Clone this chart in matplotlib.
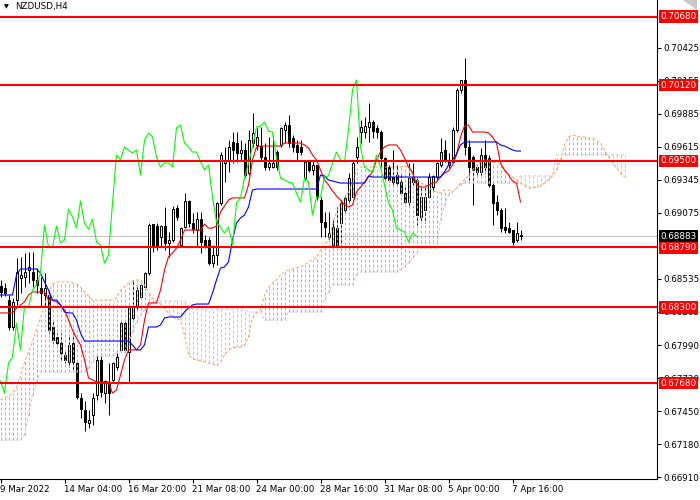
import matplotlib
matplotlib.use("Agg")
import matplotlib.pyplot as plt
import numpy as np
from matplotlib.patches import Polygon

plt.rcParams['font.family'] = ['DejaVu Sans']

# H4 candles, NZDUSD
opens = [
    0.68475, 0.68458, 0.68360, 0.68139, 0.68360, 0.68540, 0.68549, 0.68606, 0.68590, 0.68524,
    0.68458, 0.68401, 0.68401, 0.68139, 0.68057, 0.68007, 0.67910, 0.67853, 0.68007, 0.67844,
    0.67558, 0.67459, 0.67352, 0.67418, 0.67582, 0.67869, 0.67598, 0.67680, 0.67705, 0.67812,
    0.67951, 0.68171, 0.67934, 0.68213, 0.68303, 0.68385, 0.68467, 0.68581, 0.68982, 0.68966,
    0.68876, 0.68966, 0.68827, 0.68851, 0.69113, 0.68810, 0.68958, 0.69171, 0.68990, 0.68933,
    0.69023, 0.68851, 0.68851, 0.68663, 0.68729, 0.69155, 0.69482, 0.69507, 0.69654, 0.69646,
    0.69564, 0.69589, 0.69400, 0.69646, 0.69630, 0.69621, 0.69531, 0.69449, 0.69449, 0.69572,
    0.69630, 0.69752, 0.69793, 0.69687, 0.69630, 0.69613, 0.69359, 0.69490, 0.69425, 0.69466,
    0.69179, 0.68999, 0.68876, 0.68810, 0.68949, 0.68990, 0.69097, 0.69179, 0.69204, 0.69531,
    0.69736, 0.69736, 0.69777, 0.69818, 0.69769, 0.69736, 0.69523, 0.69449, 0.69367, 0.69384,
    0.69326, 0.69236, 0.69163, 0.69367, 0.69343, 0.69040, 0.69097, 0.69204, 0.69285, 0.69367,
    0.69466, 0.69589, 0.69466, 0.69490, 0.69752, 0.70080, 0.70162, 0.69613, 0.69531, 0.69449,
    0.69408, 0.69548, 0.69523, 0.69302, 0.69163, 0.69097, 0.68958, 0.68949, 0.68933, 0.68851,
    0.68892]
highs = [
    0.68524, 0.68499, 0.68401, 0.68376, 0.68704, 0.68713, 0.68745, 0.68754, 0.68754, 0.68622,
    0.68549, 0.68581, 0.68442, 0.68196, 0.68089, 0.68089, 0.67951, 0.68057, 0.68089, 0.67853,
    0.67598, 0.67533, 0.67459, 0.67598, 0.67910, 0.67926, 0.67705, 0.67844, 0.67853, 0.67926,
    0.68196, 0.68196, 0.68319, 0.68524, 0.68483, 0.68499, 0.68590, 0.68990, 0.68982, 0.68990,
    0.68974, 0.69122, 0.68917, 0.69130, 0.69138, 0.68958, 0.69236, 0.69179, 0.69072, 0.69081,
    0.69081, 0.68892, 0.68876, 0.68810, 0.69163, 0.69572, 0.69613, 0.69670, 0.69736, 0.69736,
    0.69670, 0.69646, 0.69752, 0.69892, 0.69769, 0.69777, 0.69646, 0.69695, 0.69711, 0.69589,
    0.69777, 0.69818, 0.69875, 0.69711, 0.69670, 0.69670, 0.69507, 0.69507, 0.69507, 0.69466,
    0.69204, 0.69081, 0.69081, 0.69015, 0.69122, 0.69179, 0.69220, 0.69400, 0.69507, 0.69695,
    0.69834, 0.69859, 0.69974, 0.69834, 0.69793, 0.69752, 0.69531, 0.69466, 0.69589, 0.69466,
    0.69400, 0.69285, 0.69482, 0.69482, 0.69359, 0.69285, 0.69285, 0.69400, 0.69384, 0.69490,
    0.69687, 0.69670, 0.69564, 0.69777, 0.70096, 0.70162, 0.70342, 0.69670, 0.69548, 0.69466,
    0.69605, 0.69670, 0.69548, 0.69318, 0.69220, 0.69113, 0.69113, 0.68999, 0.68933, 0.68999,
    0.68933]
lows = [
    0.68385, 0.68393, 0.68114, 0.68114, 0.68319, 0.68417, 0.68467, 0.68499, 0.68467, 0.68417,
    0.68303, 0.68303, 0.68089, 0.68007, 0.67975, 0.67869, 0.67844, 0.67812, 0.67787, 0.67549,
    0.67393, 0.67287, 0.67311, 0.67336, 0.67541, 0.67566, 0.67516, 0.67418, 0.67689, 0.67787,
    0.67934, 0.67934, 0.67680, 0.68196, 0.68278, 0.68368, 0.68442, 0.68565, 0.68754, 0.68770,
    0.68794, 0.68770, 0.68713, 0.68835, 0.69015, 0.68794, 0.68949, 0.68958, 0.68908, 0.68794,
    0.68745, 0.68786, 0.68647, 0.68631, 0.68647, 0.69138, 0.69326, 0.69408, 0.69482, 0.69490,
    0.69507, 0.69367, 0.69384, 0.69613, 0.69589, 0.69507, 0.69425, 0.69425, 0.69441, 0.69425,
    0.69613, 0.69646, 0.69613, 0.69572, 0.69507, 0.69548, 0.69343, 0.69408, 0.69384, 0.69179,
    0.68876, 0.68876, 0.68859, 0.68770, 0.68778, 0.68770, 0.69081, 0.69155, 0.69179, 0.69482,
    0.69646, 0.69687, 0.69654, 0.69687, 0.69687, 0.69449, 0.69343, 0.69326, 0.69285, 0.69302,
    0.69220, 0.69155, 0.69122, 0.69302, 0.68974, 0.68999, 0.68990, 0.69196, 0.69244, 0.69343,
    0.69449, 0.69490, 0.69441, 0.69482, 0.69736, 0.70055, 0.69548, 0.69343, 0.69138, 0.69384,
    0.69367, 0.69400, 0.69285, 0.68974, 0.69056, 0.68917, 0.68908, 0.68908, 0.68810, 0.68835,
    0.68851]
closes = [
    0.68426, 0.68417, 0.68139, 0.68344, 0.68590, 0.68565, 0.68590, 0.68631, 0.68524, 0.68483,
    0.68417, 0.68458, 0.68114, 0.68032, 0.68007, 0.67926, 0.67869, 0.67992, 0.67853, 0.67566,
    0.67467, 0.67361, 0.67377, 0.67558, 0.67869, 0.67607, 0.67697, 0.67598, 0.67844, 0.67894,
    0.68171, 0.67951, 0.68311, 0.68303, 0.68442, 0.68483, 0.68581, 0.68974, 0.68794, 0.68794,
    0.68966, 0.68827, 0.68851, 0.69105, 0.69040, 0.68949, 0.69171, 0.68990, 0.68941, 0.69023,
    0.68835, 0.68810, 0.68663, 0.68729, 0.69155, 0.69548, 0.69507, 0.69613, 0.69589, 0.69564,
    0.69589, 0.69384, 0.69670, 0.69728, 0.69695, 0.69531, 0.69449, 0.69482, 0.69482, 0.69449,
    0.69769, 0.69793, 0.69646, 0.69613, 0.69572, 0.69572, 0.69490, 0.69425, 0.69466, 0.69204,
    0.68999, 0.68958, 0.68908, 0.68958, 0.68810, 0.69155, 0.69196, 0.69359, 0.69482, 0.69613,
    0.69777, 0.69785, 0.69818, 0.69744, 0.69736, 0.69523, 0.69359, 0.69343, 0.69326, 0.69318,
    0.69236, 0.69163, 0.69359, 0.69326, 0.69056, 0.69204, 0.69204, 0.69367, 0.69376, 0.69482,
    0.69572, 0.69507, 0.69490, 0.69752, 0.70080, 0.70162, 0.69613, 0.69449, 0.69425, 0.69408,
    0.69548, 0.69449, 0.69302, 0.69155, 0.69097, 0.68949, 0.68933, 0.68917, 0.68835, 0.68908,
    0.68883]

# Ichimoku lines
tenkan = [
    0.68254, 0.68254, 0.68254, 0.68254, 0.68294, 0.68319, 0.68344, 0.68401, 0.68426, 0.68426,
    0.68426, 0.68426, 0.68360, 0.68360, 0.68344, 0.68319, 0.68278, 0.68196, 0.68114, 0.68048,
    0.67992, 0.67869, 0.67722, 0.67705, 0.67689, 0.67689, 0.67689, 0.67689, 0.67598, 0.67623,
    0.67746, 0.67869, 0.67951, 0.67951, 0.67951, 0.67992, 0.68196, 0.68336, 0.68336, 0.68336,
    0.68442, 0.68606, 0.68713, 0.68745, 0.68786, 0.68851, 0.68933, 0.68933, 0.68933, 0.68933,
    0.68933, 0.68982, 0.68949, 0.68949, 0.68966, 0.69081, 0.69130, 0.69179, 0.69196, 0.69196,
    0.69196, 0.69196, 0.69302, 0.69507, 0.69613, 0.69621, 0.69621, 0.69621, 0.69621, 0.69621,
    0.69621, 0.69646, 0.69646, 0.69646, 0.69646, 0.69646, 0.69630, 0.69605, 0.69548, 0.69507,
    0.69425, 0.69343, 0.69302, 0.69253, 0.69212, 0.69179, 0.69138, 0.69122, 0.69138, 0.69244,
    0.69285, 0.69326, 0.69367, 0.69408, 0.69507, 0.69572, 0.69613, 0.69630, 0.69630, 0.69630,
    0.69589, 0.69523, 0.69449, 0.69408, 0.69302, 0.69285, 0.69285, 0.69302, 0.69318, 0.69326,
    0.69367, 0.69400, 0.69417, 0.69466, 0.69548, 0.69695, 0.69785, 0.69793, 0.69736, 0.69736,
    0.69736, 0.69736, 0.69728, 0.69695, 0.69646, 0.69482, 0.69425, 0.69384, 0.69335, 0.69318,
    0.69163]
kijun = [
    0.68401, 0.68401, 0.68401, 0.68401, 0.68565, 0.68614, 0.68614, 0.68614, 0.68614, 0.68614,
    0.68581, 0.68508, 0.68442, 0.68360, 0.68360, 0.68319, 0.68262, 0.68254, 0.68254, 0.68196,
    0.68089, 0.68024, 0.68024, 0.68024, 0.68024, 0.68024, 0.68024, 0.68024, 0.68024, 0.68024,
    0.68024, 0.68024, 0.68024, 0.67992, 0.67951, 0.67951, 0.67992, 0.68139, 0.68139, 0.68139,
    0.68155, 0.68213, 0.68221, 0.68221, 0.68221, 0.68221, 0.68262, 0.68294, 0.68319, 0.68327,
    0.68327, 0.68327, 0.68327, 0.68417, 0.68524, 0.68622, 0.68631, 0.68672, 0.68851, 0.68990,
    0.69032, 0.69056, 0.69122, 0.69261, 0.69269, 0.69269, 0.69269, 0.69269, 0.69269, 0.69269,
    0.69269, 0.69269, 0.69269, 0.69269, 0.69269, 0.69269, 0.69269, 0.69269, 0.69269, 0.69269,
    0.69384, 0.69376, 0.69343, 0.69335, 0.69326, 0.69318, 0.69318, 0.69318, 0.69318, 0.69318,
    0.69318, 0.69318, 0.69376, 0.69367, 0.69367, 0.69367, 0.69367, 0.69367, 0.69367, 0.69367,
    0.69367, 0.69367, 0.69367, 0.69367, 0.69367, 0.69367, 0.69367, 0.69367, 0.69367, 0.69367,
    0.69367, 0.69408, 0.69466, 0.69507, 0.69556, 0.69630, 0.69654, 0.69654, 0.69654, 0.69654,
    0.69654, 0.69654, 0.69654, 0.69654, 0.69654, 0.69630, 0.69621, 0.69605, 0.69589, 0.69580,
    0.69580]
span_a = [
    0.67541, 0.67558, 0.67574, 0.67598, 0.67639, 0.67738, 0.67853, 0.67934, 0.68016, 0.68114,
    0.68213, 0.68319, 0.68417, 0.68491, 0.68508, 0.68508, 0.68508, 0.68508, 0.68499, 0.68491,
    0.68467, 0.68426, 0.68393, 0.68360, 0.68360, 0.68360, 0.68360, 0.68360, 0.68360, 0.68376,
    0.68442, 0.68467, 0.68499, 0.68516, 0.68524, 0.68524, 0.68483, 0.68426, 0.68376, 0.68344,
    0.68327, 0.68294, 0.68254, 0.68221, 0.68204, 0.68196, 0.68073, 0.67910, 0.67877, 0.67869,
    0.67861, 0.67853, 0.67844, 0.67836, 0.67820, 0.67853, 0.67910, 0.67951, 0.67967, 0.67975,
    0.67975, 0.67992, 0.68057, 0.68213, 0.68254, 0.68278, 0.68401, 0.68458, 0.68499, 0.68524,
    0.68565, 0.68590, 0.68606, 0.68614, 0.68622, 0.68631, 0.68647, 0.68672, 0.68688, 0.68704,
    0.68770, 0.68810, 0.68851, 0.68974, 0.69081, 0.69155, 0.69196, 0.69244, 0.69318, 0.69425,
    0.69449, 0.69449, 0.69449, 0.69449, 0.69449, 0.69449, 0.69449, 0.69449, 0.69449, 0.69449,
    0.69449, 0.69458, 0.69449, 0.69384, 0.69343, 0.69326, 0.69302, 0.69277, 0.69261, 0.69244,
    0.69236, 0.69261, 0.69261, 0.69244, 0.69277, 0.69318, 0.69343, 0.69384, 0.69425, 0.69466,
    0.69490, 0.69507, 0.69507, 0.69490, 0.69482, 0.69466, 0.69425, 0.69392, 0.69367, 0.69343,
    0.69318, 0.69294, 0.69277, 0.69277, 0.69285, 0.69294, 0.69318, 0.69343, 0.69376, 0.69425,
    0.69507, 0.69630, 0.69695, 0.69711, 0.69703, 0.69695, 0.69695, 0.69687, 0.69687, 0.69670,
    0.69646, 0.69589, 0.69531, 0.69482, 0.69441, 0.69400, 0.69367]
span_b = [
    0.67213, 0.67213, 0.67213, 0.67213, 0.67213, 0.67213, 0.67254, 0.67418, 0.67582, 0.67689,
    0.67771, 0.67771, 0.67771, 0.67771, 0.67771, 0.67771, 0.67771, 0.67771, 0.67771, 0.67771,
    0.67771, 0.67771, 0.67804, 0.67853, 0.67902, 0.67902, 0.67902, 0.67902, 0.67902, 0.67934,
    0.67934, 0.67934, 0.67992, 0.68098, 0.68180, 0.68237, 0.68278, 0.68311, 0.68336, 0.68344,
    0.68352, 0.68352, 0.68352, 0.68352, 0.68352, 0.68352, 0.68352, 0.68311, 0.68286, 0.68286,
    0.68286, 0.68286, 0.68286, 0.68286, 0.68286, 0.68286, 0.68286, 0.68286, 0.68286, 0.68286,
    0.68286, 0.68286, 0.68262, 0.68262, 0.68262, 0.68262, 0.68196, 0.68196, 0.68196, 0.68196,
    0.68196, 0.68196, 0.68262, 0.68262, 0.68262, 0.68262, 0.68262, 0.68262, 0.68262, 0.68262,
    0.68262, 0.68360, 0.68426, 0.68483, 0.68483, 0.68483, 0.68483, 0.68483, 0.68483, 0.68565,
    0.68590, 0.68590, 0.68590, 0.68590, 0.68590, 0.68590, 0.68590, 0.68590, 0.68590, 0.68590,
    0.68606, 0.68631, 0.68663, 0.68704, 0.68745, 0.68786, 0.68786, 0.68786, 0.68786, 0.68786,
    0.69015, 0.69138, 0.69220, 0.69244, 0.69277, 0.69302, 0.69318, 0.69318, 0.69318, 0.69318,
    0.69318, 0.69318, 0.69318, 0.69318, 0.69318, 0.69318, 0.69318, 0.69318, 0.69318, 0.69318,
    0.69376, 0.69376, 0.69376, 0.69376, 0.69376, 0.69376, 0.69376, 0.69376, 0.69376, 0.69548,
    0.69548, 0.69548, 0.69548, 0.69548, 0.69548, 0.69548, 0.69548, 0.69548, 0.69548, 0.69548,
    0.69548, 0.69548, 0.69548, 0.69548, 0.69548, 0.69548, 0.69548]
chikou_shift = 26

levels = [0.70680, 0.70120, 0.69500, 0.68790, 0.68300, 0.67680]
bid = 0.68883
price_ticks = [0.70425, 0.70155, 0.69885, 0.69615, 0.69345, 0.69075,
               0.68535, 0.68265, 0.67990, 0.67720, 0.67450, 0.67180, 0.66910]
time_labels = ["9 Mar 2022", "14 Mar 04:00", "16 Mar 20:00", "21 Mar 08:00",
               "24 Mar 00:00", "28 Mar 16:00", "31 Mar 08:00", "5 Apr 00:00", "7 Apr 16:00"]
time_label_bars = [0, 16, 32, 48, 64, 80, 96, 112, 128]

W, H = 700, 500
PX = 72 / 100  # one pixel in points
fig = plt.figure(figsize=(7, 5), dpi=100)
fig.patch.set_facecolor('white')
ax = fig.add_axes([0, 21 / H, 657 / W, 479 / H])

o = np.array(opens); h = np.array(highs); l = np.array(lows); c = np.array(closes)
x = np.arange(len(o))

# bid line
ax.axhline(bid, color='#C0C0C0', lw=PX, zorder=1)

# candles
ax.vlines(x, l, h, color='black', lw=PX, zorder=2)
up = c >= o
lo = np.minimum(o, c)
ht = np.maximum(np.abs(c - o), 0.00003)
ax.bar(x[up], ht[up], bottom=lo[up], width=0.5, color='white', edgecolor='black', lw=PX, zorder=2.1)
ax.bar(x[~up], ht[~up], bottom=lo[~up], width=0.5, color='black', edgecolor='black', lw=PX, zorder=2.1)


def cloud_strokes(xv, y0, y1):
    # one dotted vertical stroke per bar, split by NaN so it stays one line
    n = len(xv)
    px = np.full(n * 3, np.nan)
    py = np.full(n * 3, np.nan)
    px[0::3] = xv; px[1::3] = xv
    py[0::3] = y0; py[1::3] = y1
    return px, py


sa = np.array(span_a); sb = np.array(span_b)
xs = np.arange(len(sa))
bull = sa >= sb
dash = (0, (3, 2))
px, py = cloud_strokes(xs[bull], sb[bull], sa[bull])
ax.plot(px, py, color='#F4A460', lw=PX, ls=dash, zorder=3)
px, py = cloud_strokes(xs[~bull], sa[~bull], sb[~bull])
ax.plot(px, py, color='#D8BFD8', lw=PX, ls=dash, zorder=3)
ax.plot(xs, sa, color='#F4A460', lw=PX, ls=dash, zorder=3)
ax.plot(xs, sb, color='#D8BFD8', lw=PX, ls=dash, zorder=3)

# tenkan, kijun, chikou
ax.plot(x, tenkan, color='#FF0000', lw=0.8, zorder=4)
ax.plot(x, kijun, color='#0000FF', lw=0.8, zorder=4)
ax.plot(x[:-chikou_shift], c[chikou_shift:], color='#00FF00', lw=0.8, zorder=4)

# horizontal levels with price tags
for lv in levels:
    ax.axhline(lv, color='#FF0000', lw=1.5, zorder=5)
    ax.annotate(f'{lv:.5f}', xy=(1.0, lv), xycoords=('axes fraction', 'data'),
                xytext=(2.5, 0), textcoords='offset points', ha='left', va='center',
                fontsize=6.3, color='white', annotation_clip=False, zorder=6,
                bbox=dict(boxstyle='square,pad=0.2', fc='#FF0000', ec='none'))
ax.annotate(f'{bid:.5f}', xy=(1.0, bid), xycoords=('axes fraction', 'data'),
            xytext=(2.5, 0), textcoords='offset points', ha='left', va='center',
            fontsize=6.3, color='white', annotation_clip=False, zorder=6,
            bbox=dict(boxstyle='square,pad=0.2', fc='black', ec='none'))

# axes: 4 px per bar, bar centres on pixel centres
ax.set_xlim(-0.125, 164.125)
ax.set_ylim(0.66894, 0.70817)
ax.spines['top'].set_visible(False)
ax.spines['left'].set_visible(False)
ax.spines['right'].set_linewidth(0.8)
ax.spines['bottom'].set_linewidth(0.8)
ax.yaxis.tick_right()
ax.set_yticks(price_ticks)
ax.set_yticklabels([f'{p:.5f}' for p in price_ticks])
ax.set_xticks(time_label_bars)
ax.set_xticklabels(time_labels, ha='left')
ax.tick_params(axis='both', labelsize=6.3, length=3, width=0.8, pad=1.5, colors='black')

# symbol header
fig.text(4 / W, 1 - 7 / H, '\u25BC', fontsize=4.5, va='center', ha='left')
fig.text(15 / W, 1 - 7 / H, 'NZDUSD,H4', fontsize=6.3, va='center', ha='left')

# shift marker top right
tri = Polygon([(683 / W, 1.0), (697 / W, 1.0), (697 / W, 1 - 10 / H)], closed=True,
              transform=fig.transFigure, fc='#C8C8C8', ec='none')
fig.patches.append(tri)

fig.savefig('out.png', dpi=100)
